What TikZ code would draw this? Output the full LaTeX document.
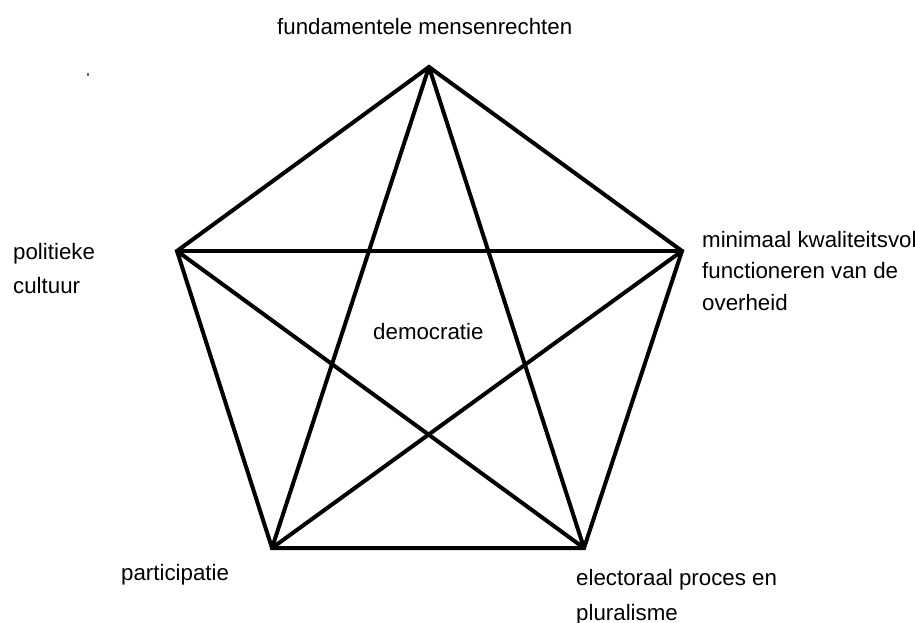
\documentclass[tikz,border=0pt]{standalone}
\usepackage{fontspec}
\setmainfont{Liberation Sans}
\begin{document}
\begin{tikzpicture}[x=1pt,y=-1pt,
  edge/.style={line width=4pt,line join=miter,line cap=round},
  lbl/.style={anchor=base west,inner sep=0pt,font=\fontsize{22.3}{26}\selectfont}]
\useasboundingbox[fill=white] (0,0) rectangle (915,623);
\coordinate (T) at (429,67);
\coordinate (R) at (682,251);
\coordinate (L) at (177,251);
\coordinate (BL) at (272,548);
\coordinate (BR) at (584,548);
% pentagon
\draw[edge] (T) -- (R) -- (BR) -- (BL) -- (L) -- cycle;
% star
\draw[edge] (T) -- (BL);
\draw[edge] (T) -- (BR);
\draw[edge] (L) -- (R);
\draw[edge] (L) -- (BR);
\draw[edge] (R) -- (BL);
% stray dot
\fill[gray!80!black] (87,73) rectangle (89,76);
% labels
\node[lbl] (top) at (277,35) {fundamentele mensenrechten};
\node[lbl] (r1) at (702,247) {minimaal kwaliteitsvol};
\node[lbl] (r2) at (702,278) {functioneren van de};
\node[lbl] (r3) at (702,310) {overheid};
\node[lbl] (l1) at (13,259) {politieke};
\node[lbl] (l2) at (13,293) {cultuur};
\node[lbl] (c) at (373,339) {democratie};
\node[lbl] (bl) at (121,580) {participatie};
\node[lbl] (br1) at (576,585) {electoraal proces en};
\node[lbl] (br2) at (576,620) {pluralisme};
\end{tikzpicture}
\end{document}
